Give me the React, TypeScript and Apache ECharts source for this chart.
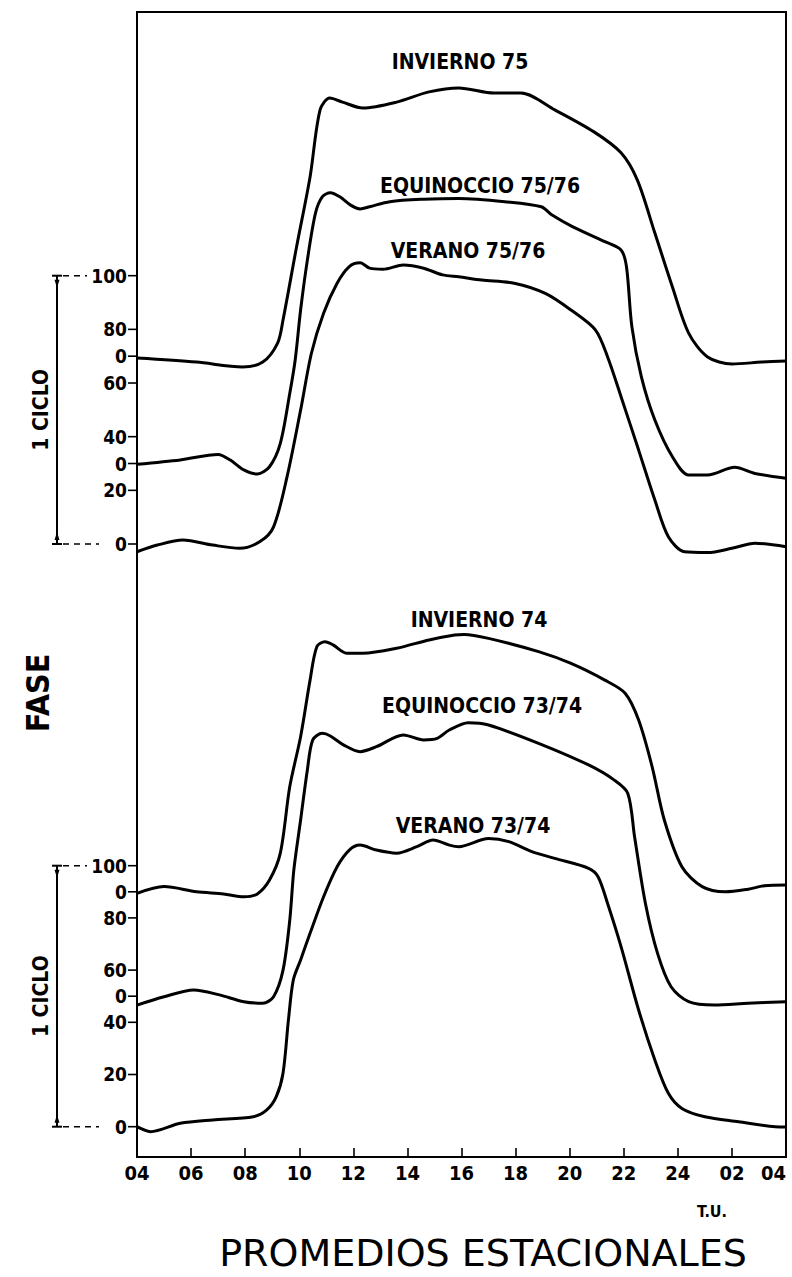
import React, { useEffect, useRef } from 'react';
import * as echarts from 'echarts';

const FONT = '"DejaVu Sans Condensed", "Liberation Sans Narrow", "DejaVu Sans", sans-serif';
const WIDE_FONT = '"DejaVu Sans", "Liberation Sans", sans-serif';

const X_TICK_LABELS = ['04', '06', '08', '10', '12', '14', '16', '18', '20', '22', '24', '02', '04'];

// [hora T.U., fase] — each curve relative to its own zero
const INVIERNO_75 = [
  [4.0, -0.7], [6.2, -2.2], [7.9, -4.0], [8.65, -2.2], [9.2, 4.9], [9.4, 13.5], [9.9, 40.7],
  [10.4, 66.8], [10.77, 91.8], [11.13, 96.2], [11.6, 94.7], [12.35, 92.5], [13.6, 94.7],
  [14.8, 98.5], [15.9, 100], [17.2, 98.1], [18.2, 98.1], [19.45, 91.8], [20.9, 83.6],
  [21.9, 75.8], [22.5, 65.7], [23.15, 45.9], [23.8, 25.8], [24.4, 8.6], [25.1, -0.3],
  [26.0, -2.9], [27.1, -2.2], [28.0, -1.8],
];
const EQUINOCCIO_75_76 = [
  [4.0, -0.3], [5.6, 1.3], [7.0, 3.4], [7.45, 1.3], [7.95, -2.4], [8.45, -3.9], [8.9, -1.2],
  [9.3, 7.5], [9.65, 26.2], [9.85, 38.6], [10.05, 57.2], [10.3, 75.8], [10.6, 93.3],
  [10.85, 99.4], [11.15, 100.9], [11.5, 99.4], [11.9, 96.3], [12.25, 94.9], [12.6, 95.7],
  [13.35, 97.6], [14.6, 98.5], [15.9, 98.8], [17.6, 97.6], [18.95, 95.7], [19.35, 92.6],
  [20.1, 88.3], [21.3, 82.7], [21.9, 79.6], [22.1, 73.4], [22.3, 51.0], [22.65, 32.4],
  [23.15, 16.2], [23.8, 2.5], [24.4, -4.3], [25.1, -4.3], [26.1, -1.4], [26.85, -3.7],
  [28.0, -5.5],
];
const VERANO_75_76 = [
  [4.0, -2.9], [4.75, -0.4], [5.7, 1.5], [6.8, -0.4], [7.8, -1.6], [8.55, 0.9], [9.05, 6.4],
  [9.55, 25.1], [10.05, 49.9], [10.45, 71.1], [10.9, 86.0], [11.4, 97.2], [11.85, 103.4],
  [12.25, 104.8], [12.6, 102.8], [13.1, 102.4], [13.85, 104.0], [14.6, 102.8], [15.3, 100.3],
  [15.9, 99.6], [16.75, 98.4], [17.95, 97.2], [19.1, 93.4], [20.05, 87.2], [20.95, 79.8],
  [21.4, 69.8], [21.9, 54.9], [22.55, 35.0], [23.15, 16.4], [23.65, 2.7], [24.25, -2.9],
  [25.1, -3.2], [26.0, -1.6], [26.85, 0.3], [28.0, -1.0],
];
const INVIERNO_74 = [
  [4.0, -0.6], [5.0, 2.0], [6.2, 0.0], [7.2, -0.8], [7.95, -1.9], [8.45, -0.8], [8.9, 4.5],
  [9.3, 14.8], [9.65, 40.3], [10.05, 59.4], [10.4, 81.1], [10.65, 93.9], [10.95, 95.8],
  [11.25, 94.6], [11.75, 91.4], [12.35, 91.4], [13.6, 93.3], [14.8, 96.5], [15.75, 98.4],
  [16.1, 98.6], [17.0, 97.1], [18.85, 92.0], [20.05, 87.5], [21.3, 81.1], [22.05, 76.1],
  [22.55, 65.8], [23.05, 47.9], [23.5, 27.5], [24.15, 9.6], [24.9, 2.0], [25.75, 0.0],
  [26.6, 1.0], [27.2, 2.3], [28.0, 2.6],
];
const EQUINOCCIO_73_74 = [
  [4.0, -3.4], [5.0, -0.2], [6.1, 2.4], [7.05, 0.5], [7.95, -2.1], [8.65, -2.7], [9.05, -0.2],
  [9.4, 10.0], [9.65, 29.2], [9.8, 48.4], [10.05, 67.5], [10.3, 86.7], [10.5, 98.2],
  [10.85, 100.7], [11.15, 99.7], [11.65, 96.2], [12.25, 93.7], [12.85, 95.6], [13.85, 100.1],
  [14.6, 98.2], [15.1, 98.8], [15.55, 102.0], [16.25, 104.8], [17.0, 103.9], [18.85, 96.9],
  [20.7, 88.6], [21.65, 82.8], [22.15, 77.7], [22.4, 61.1], [22.8, 35.6], [23.25, 16.4],
  [23.75, 3.6], [24.4, -2.1], [25.35, -3.4], [26.6, -2.7], [28.0, -2.1],
];
const VERANO_73_74 = [
  [4.0, 0.0], [4.5, -1.9], [5.6, 1.3], [6.8, 2.6], [8.3, 3.8], [8.8, 6.4], [9.15, 11.5],
  [9.4, 20.5], [9.6, 40.9], [9.78, 56.2], [10.05, 63.9], [10.4, 74.1], [10.9, 88.1],
  [11.4, 99.6], [11.85, 106.0], [12.25, 107.9], [12.85, 106.0], [13.6, 104.8], [14.35, 107.3],
  [14.95, 109.8], [15.55, 107.9], [15.9, 107.3], [17.0, 110.4], [17.75, 109.2], [18.6, 105.4],
  [19.45, 102.8], [20.7, 99.0], [21.05, 95.8], [21.4, 85.6], [21.9, 69.0], [22.55, 44.7],
  [23.15, 25.6], [23.65, 12.8], [24.15, 7.0], [25.0, 3.8], [26.25, 1.9], [27.6, 0.0],
  [28.0, -0.1],
];

const CURVE_NAMES = ['INVIERNO 75', 'EQUINOCCIO 75/76', 'VERANO 75/76', 'INVIERNO 74', 'EQUINOCCIO 73/74', 'VERANO 73/74'];
const UPPER_OFFSETS = [70, 30, 0];
const LOWER_OFFSETS = [90, 50, 0];

const UPPER_TICK_VALUES = [100, 80, 70, 60, 40, 30, 20, 0];
const UPPER_TICK_LABELS = ['100', '80', '0', '60', '40', '0', '20', '0'];
const LOWER_TICK_VALUES = [100, 90, 80, 60, 50, 40, 20, 0];
const LOWER_TICK_LABELS = ['100', '0', '80', '60', '0', '40', '20', '0'];

const CYCLE_RANGE = [0, 100];

function lineSeries(name: string, data: number[][], offset: number, yAxisIndex: number) {
  return {
    type: 'line',
    name,
    xAxisIndex: 0,
    yAxisIndex,
    data: data.map(([h, v]) => [h, v + offset]),
    smooth: 0.3,
    symbol: 'none',
    showSymbol: false,
    lineStyle: { color: '#000', width: 3 },
    z: 3,
  };
}

function tickSeries(values: number[], labels: string[], yAxisIndex: number) {
  return {
    type: 'custom',
    xAxisIndex: 0,
    yAxisIndex,
    clip: false,
    silent: true,
    z: 6,
    data: values.map((v) => [4, v]),
    encode: { x: 0, y: 1 },
    renderItem: (params: any, api: any) => {
      const p = api.coord([api.value(0), api.value(1)]);
      const label = labels[params.dataIndex];
      return {
        type: 'group',
        children: [
          { type: 'line', shape: { x1: p[0] - 9, y1: p[1], x2: p[0], y2: p[1] }, style: { stroke: '#000', lineWidth: 1.6 } },
          {
            type: 'text',
            x: p[0] - 10,
            y: p[1],
            style: {
              text: label, fill: '#000', fontSize: 19, fontWeight: 'bold', fontFamily: FONT,
              textAlign: 'right', align: 'right', textVerticalAlign: 'middle', verticalAlign: 'middle',
            },
          },
        ],
      };
    },
  };
}

function bracketSeries(yAxisIndex: number, dashTop: number, dashBottom: number) {
  return {
    type: 'custom',
    xAxisIndex: 0,
    yAxisIndex,
    clip: false,
    silent: true,
    z: 6,
    data: [[4, CYCLE_RANGE[0], CYCLE_RANGE[1]]],
    encode: { x: 0, y: [1, 2] },
    renderItem: (params: any, api: any) => {
      const b = api.coord([api.value(0), api.value(1)]);
      const t = api.coord([api.value(0), api.value(2)]);
      const bx = b[0] - 80;
      const st = { stroke: '#000', lineWidth: 2 };
      const dash = { stroke: '#000', lineWidth: 1.6, lineDash: [6, 5] };
      return {
        type: 'group',
        children: [
          { type: 'line', shape: { x1: bx, y1: t[1], x2: bx, y2: b[1] }, style: st },
          { type: 'line', shape: { x1: bx - 5, y1: t[1], x2: bx + 5, y2: t[1] }, style: st },
          { type: 'line', shape: { x1: bx - 5, y1: b[1], x2: bx + 5, y2: b[1] }, style: st },
          { type: 'polygon', shape: { points: [[bx - 2.5, t[1] + 4], [bx + 2.5, t[1] + 4], [bx, t[1] + 12]] }, style: { fill: '#000' } },
          { type: 'polygon', shape: { points: [[bx - 2.5, b[1] - 4], [bx + 2.5, b[1] - 4], [bx, b[1] - 12]] }, style: { fill: '#000' } },
          { type: 'line', shape: { x1: bx + 6, y1: t[1], x2: b[0] - dashTop, y2: t[1] }, style: dash },
          { type: 'line', shape: { x1: bx + 6, y1: b[1], x2: b[0] - dashBottom, y2: b[1] }, style: dash },
          {
            type: 'text',
            x: bx - 16,
            y: (t[1] + b[1]) / 2,
            rotation: Math.PI / 2,
            style: {
              text: '1 CICLO', fill: '#000', fontSize: 21, fontWeight: 'bold', fontFamily: FONT,
              textAlign: 'center', align: 'center', textVerticalAlign: 'middle', verticalAlign: 'middle',
            },
          },
        ],
      };
    },
  };
}

function label(text: string, x: number, y: number, size: number, weight = 'bold', rotation = 0, family = FONT) {
  return {
    type: 'text',
    x,
    y,
    rotation,
    z: 10,
    style: {
      text, fill: '#000', fontSize: size, fontWeight: weight, fontFamily: family,
      textAlign: 'center', align: 'center', textVerticalAlign: 'middle', verticalAlign: 'middle',
    },
  };
}

export default function App() {
  const ref = useRef<HTMLDivElement>(null);
  useEffect(() => {
    if (!ref.current) return;
    const chart = echarts.init(ref.current, undefined, { renderer: 'svg' });
    const option: any = {
      animation: false,
      backgroundColor: '#fff',
      grid: {
        left: 137, right: 6, top: 12, bottom: 120, containLabel: false, outerBoundsMode: 'none',
        show: true, borderColor: '#000', borderWidth: 2, backgroundColor: 'transparent',
      },
      xAxis: {
        type: 'value', min: 4, max: 28, interval: 2,
        axisLine: { show: true, onZero: false, lineStyle: { color: '#000', width: 2 } },
        axisTick: { show: true, inside: true, length: 9, lineStyle: { color: '#000', width: 1.6 } },
        axisLabel: {
          color: '#000', fontSize: 20, fontWeight: 'bold', fontFamily: FONT, margin: 6,
          alignMaxLabel: 'right',
          formatter: (v: number) => X_TICK_LABELS[Math.round((v - 4) / 2)] ?? '',
        },
        splitLine: { show: false },
      },
      yAxis: [
        { type: 'value', min: -228.47, max: 198.28, show: false, splitLine: { show: false } },
        { type: 'value', min: -11.61, max: 427.09, show: false, splitLine: { show: false } },
      ],
      series: [
        lineSeries(CURVE_NAMES[0], INVIERNO_75, UPPER_OFFSETS[0], 0),
        lineSeries(CURVE_NAMES[1], EQUINOCCIO_75_76, UPPER_OFFSETS[1], 0),
        lineSeries(CURVE_NAMES[2], VERANO_75_76, UPPER_OFFSETS[2], 0),
        lineSeries(CURVE_NAMES[3], INVIERNO_74, LOWER_OFFSETS[0], 1),
        lineSeries(CURVE_NAMES[4], EQUINOCCIO_73_74, LOWER_OFFSETS[1], 1),
        lineSeries(CURVE_NAMES[5], VERANO_73_74, LOWER_OFFSETS[2], 1),
        tickSeries(UPPER_TICK_VALUES, UPPER_TICK_LABELS, 0),
        tickSeries(LOWER_TICK_VALUES, LOWER_TICK_LABELS, 1),
        bracketSeries(0, 50, 38),
        bracketSeries(1, 50, 38),
      ],
      graphic: [
        label(CURVE_NAMES[0], 460, 62, 21),
        label(CURVE_NAMES[1], 480, 186, 21),
        label(CURVE_NAMES[2], 468, 251, 21),
        label(CURVE_NAMES[3], 479, 620, 21),
        label(CURVE_NAMES[4], 482, 706, 21),
        label(CURVE_NAMES[5], 473, 826, 21),
        label('FASE', 38, 693, 32, 'bold', Math.PI / 2),
        label('T.U.', 712, 1211, 16),
        label('PROMEDIOS ESTACIONALES', 483, 1253, 38, 'normal', 0, WIDE_FONT),
      ],
    };
    chart.setOption(option);
    return () => chart.dispose();
  }, []);
  return <div ref={ref} style={{ position: 'fixed', left: 0, top: 0, width: 792, height: 1277, background: '#fff' }} />;
}
